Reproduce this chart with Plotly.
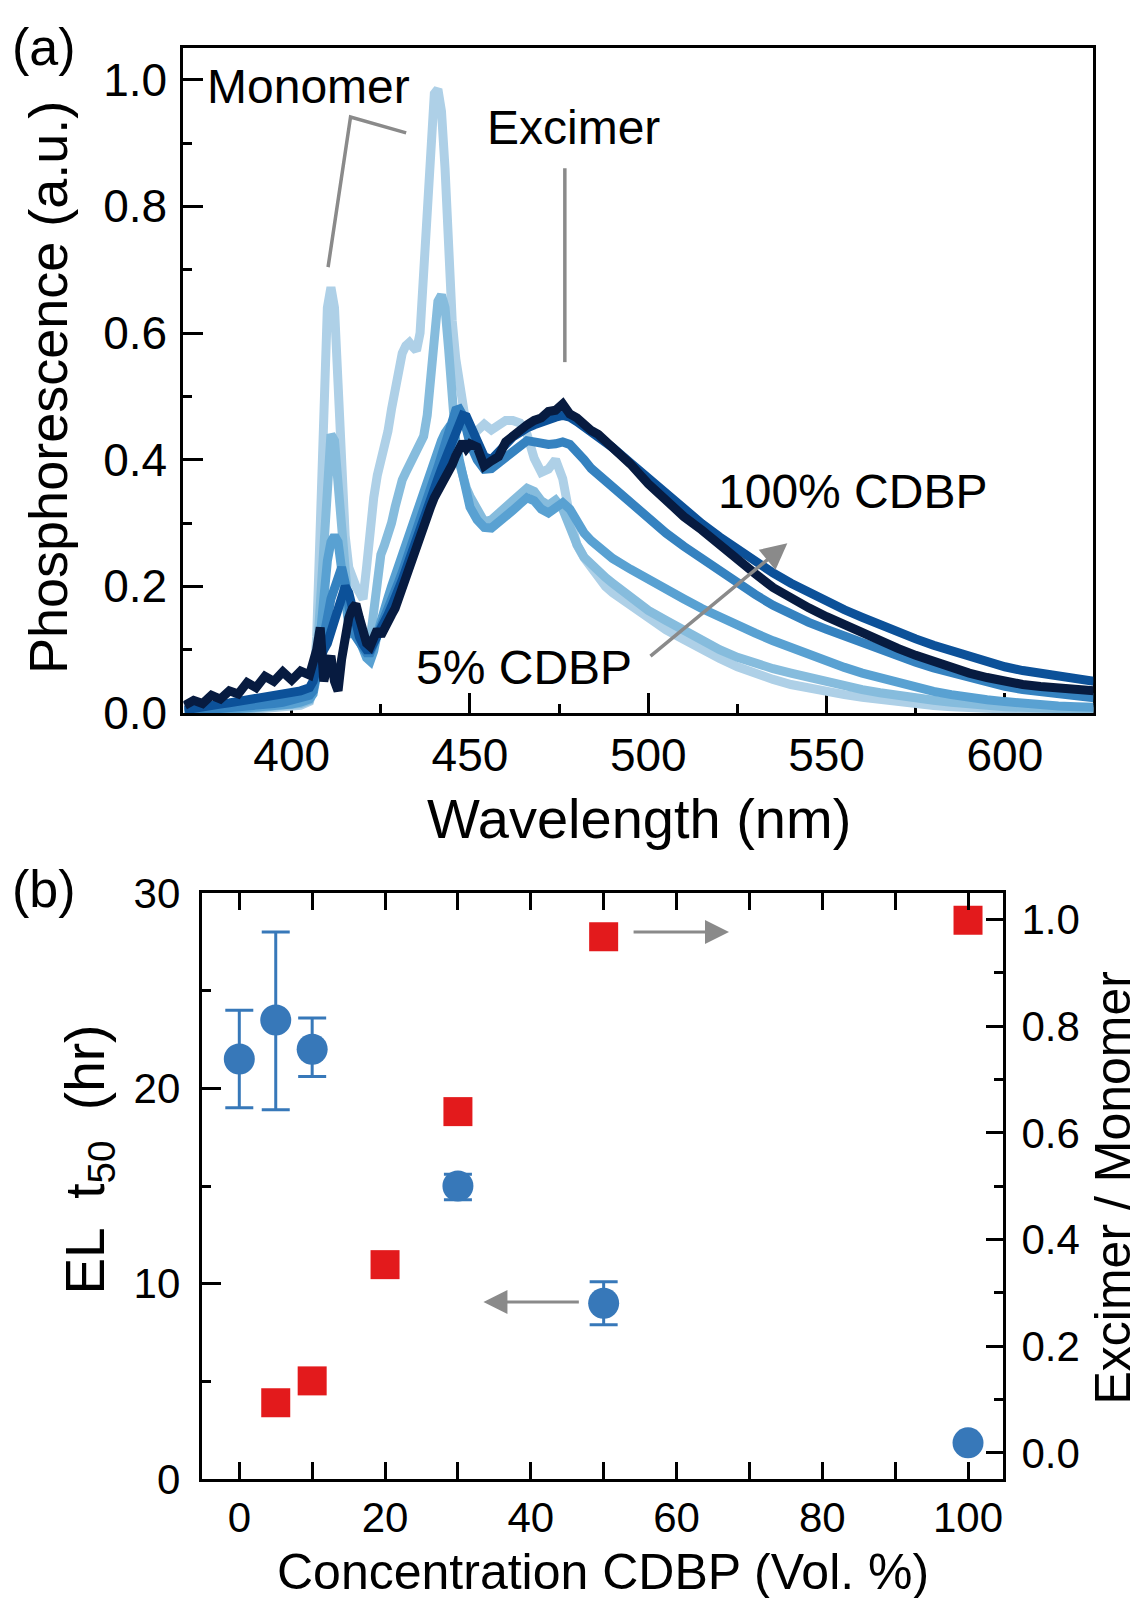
import plotly.graph_objects as go

W, H = 1139, 1598
FONT = "Liberation Sans, Arial, Helvetica, sans-serif"
DX, DY = -8, -8   # compensate page body margin

# ---------------- Panel (a): phosphorescence spectra ----------------
wavelength = [370, 372.5, 375, 377.5, 380, 382.5, 385, 387.5, 390, 392.5, 395, 397.5, 400, 402.5, 405,
              406, 407, 408, 409, 410, 411, 412, 413, 414, 415,
              416, 417, 418, 419, 420, 421, 422, 423, 424, 425,
              426, 427, 428, 429, 430, 431, 432, 433, 434, 435,
              436, 437, 438, 439, 440, 441, 442, 443, 444, 445,
              446, 447, 448, 449, 450,
              452, 454, 456, 458, 460, 462, 464, 466, 468, 470,
              472, 474, 476, 478, 480, 482, 484, 486, 488, 490,
              495, 500, 505, 510, 515, 520, 525, 530, 535, 540,
              545, 550, 555, 560, 565, 570, 575, 580, 585, 590,
              595, 600, 605, 610, 615, 620, 625]

cdbp_5 = [0.0, 0.0, 0.0, 0.001, 0.002, 0.003, 0.004, 0.005, 0.006, 0.007, 0.008, 0.009, 0.01, 0.012, 0.018,
          0.04, 0.12, 0.3, 0.5, 0.64, 0.672, 0.64, 0.52, 0.38, 0.28,
          0.23, 0.21, 0.2, 0.19, 0.18, 0.23, 0.3, 0.34, 0.375, 0.395,
          0.415, 0.445, 0.48, 0.515, 0.545, 0.568, 0.58, 0.585, 0.578, 0.572,
          0.6, 0.7, 0.82, 0.93, 0.978, 0.985, 0.95, 0.86, 0.72, 0.62,
          0.56, 0.515, 0.48, 0.452, 0.435,
          0.448, 0.456, 0.447, 0.455, 0.462, 0.462, 0.458, 0.44, 0.402, 0.38,
          0.385, 0.4, 0.37, 0.31, 0.265, 0.245, 0.228, 0.213, 0.2, 0.19,
          0.17, 0.149, 0.131, 0.116, 0.1, 0.086, 0.073, 0.062, 0.053, 0.045,
          0.039, 0.034, 0.029, 0.025, 0.021, 0.018, 0.015, 0.012, 0.01, 0.008,
          0.007, 0.006, 0.005, 0.004, 0.003, 0.003, 0.002]

cdbp_10 = [0.0, 0.0, 0.001, 0.002, 0.003, 0.004, 0.005, 0.006, 0.007, 0.008, 0.009, 0.01, 0.012, 0.015, 0.02,
           0.035, 0.08, 0.17, 0.3, 0.4, 0.44, 0.43, 0.36, 0.27, 0.2,
           0.16, 0.14, 0.13, 0.12, 0.108, 0.1, 0.115, 0.17, 0.22, 0.25,
           0.265, 0.28, 0.3, 0.325, 0.35, 0.368, 0.38, 0.39, 0.4, 0.413,
           0.425, 0.437, 0.47, 0.54, 0.61, 0.65, 0.66, 0.64, 0.575, 0.49,
           0.43, 0.395, 0.372, 0.355, 0.342,
           0.32, 0.302, 0.305, 0.315, 0.325, 0.335, 0.345, 0.355, 0.35, 0.335,
           0.328, 0.336, 0.322, 0.292, 0.266, 0.246, 0.234, 0.224, 0.214, 0.205,
           0.184, 0.162, 0.146, 0.13, 0.114, 0.1, 0.088, 0.078, 0.07, 0.063,
           0.056, 0.049, 0.043, 0.037, 0.032, 0.027, 0.023, 0.02, 0.017, 0.014,
           0.012, 0.01, 0.009, 0.008, 0.007, 0.006, 0.005]

cdbp_20 = [0.0, 0.001, 0.002, 0.003, 0.004, 0.005, 0.006, 0.007, 0.008, 0.009, 0.01, 0.012, 0.014, 0.017, 0.022,
           0.03, 0.06, 0.12, 0.19, 0.24, 0.27, 0.28, 0.27, 0.225, 0.175,
           0.14, 0.125, 0.125, 0.115, 0.1, 0.087, 0.082, 0.098, 0.125, 0.148,
           0.165, 0.182, 0.2, 0.217, 0.235, 0.252, 0.27, 0.287, 0.304, 0.32,
           0.336, 0.352, 0.368, 0.384, 0.4, 0.415, 0.43, 0.442, 0.45, 0.448,
           0.43, 0.4, 0.37, 0.345, 0.325,
           0.305, 0.293, 0.292, 0.3, 0.31, 0.32, 0.33, 0.34, 0.335, 0.322,
           0.316, 0.326, 0.332, 0.322, 0.302, 0.284, 0.272, 0.262, 0.252, 0.244,
           0.227, 0.21, 0.195, 0.18, 0.165, 0.151, 0.138, 0.126, 0.114, 0.103,
           0.092, 0.082, 0.072, 0.063, 0.055, 0.047, 0.04, 0.034, 0.029, 0.024,
           0.021, 0.018, 0.015, 0.013, 0.011, 0.01, 0.009]

cdbp_30 = [0.002, 0.003, 0.004, 0.005, 0.006, 0.007, 0.008, 0.01, 0.011, 0.013, 0.015, 0.017, 0.02, 0.023, 0.028,
           0.035, 0.06, 0.09, 0.12, 0.15, 0.18, 0.2, 0.22, 0.23, 0.205,
           0.165, 0.135, 0.12, 0.11, 0.1, 0.095, 0.095, 0.108, 0.123, 0.137,
           0.15, 0.16, 0.175, 0.19, 0.207, 0.222, 0.24, 0.258, 0.274, 0.29,
           0.306, 0.322, 0.338, 0.355, 0.372, 0.388, 0.405, 0.425, 0.445, 0.465,
           0.478, 0.48, 0.47, 0.448, 0.425,
           0.4, 0.385, 0.386, 0.395, 0.405, 0.415, 0.424, 0.43, 0.428, 0.425,
           0.424, 0.425, 0.428, 0.424, 0.414, 0.4, 0.386, 0.376, 0.366, 0.356,
           0.331, 0.306, 0.284, 0.263, 0.243, 0.224, 0.205, 0.187, 0.17, 0.155,
           0.143, 0.132, 0.121, 0.11, 0.099, 0.089, 0.08, 0.071, 0.063, 0.055,
           0.048, 0.042, 0.037, 0.033, 0.029, 0.026, 0.024]

cdbp_50 = [0.005, 0.008, 0.01, 0.012, 0.014, 0.016, 0.018, 0.02, 0.022, 0.025, 0.027, 0.03, 0.032, 0.035, 0.04,
           0.05, 0.07, 0.09, 0.1, 0.11, 0.13, 0.15, 0.17, 0.19, 0.2,
           0.19, 0.165, 0.14, 0.12, 0.108, 0.1, 0.1, 0.11, 0.123, 0.135,
           0.145, 0.155, 0.168, 0.18, 0.195, 0.21, 0.226, 0.243, 0.258, 0.274,
           0.29, 0.306, 0.322, 0.338, 0.355, 0.37, 0.385, 0.4, 0.418, 0.435,
           0.45, 0.462, 0.47, 0.468, 0.455,
           0.425, 0.405, 0.4, 0.41, 0.424, 0.436, 0.444, 0.45, 0.455, 0.46,
           0.464, 0.467, 0.47, 0.467, 0.46, 0.452, 0.445, 0.437, 0.428, 0.419,
           0.395, 0.37, 0.346, 0.322, 0.299, 0.278, 0.258, 0.239, 0.221, 0.205,
           0.19, 0.176, 0.163, 0.151, 0.139, 0.128, 0.117, 0.107, 0.098, 0.089,
           0.081, 0.073, 0.067, 0.062, 0.057, 0.053, 0.05]

cdbp_100 = [0.012, 0.02, 0.015, 0.028, 0.022, 0.035, 0.03, 0.048, 0.04, 0.058, 0.05, 0.065, 0.052, 0.066, 0.06,
            0.075, 0.1, 0.135, 0.05, 0.075, 0.09, 0.05, 0.035, 0.085, 0.125,
            0.15, 0.165, 0.172, 0.15, 0.13, 0.11, 0.105, 0.12, 0.132, 0.122,
            0.135, 0.14, 0.155, 0.165, 0.182, 0.198, 0.215, 0.235, 0.248, 0.265,
            0.283, 0.296, 0.31, 0.326, 0.34, 0.35, 0.358, 0.37, 0.376, 0.392,
            0.406, 0.42, 0.428, 0.418, 0.425,
            0.42, 0.39, 0.398, 0.405, 0.428, 0.438, 0.448, 0.455, 0.462, 0.466,
            0.476, 0.478, 0.488, 0.472, 0.466, 0.455, 0.446, 0.44, 0.43, 0.42,
            0.393, 0.362, 0.336, 0.31, 0.289, 0.265, 0.243, 0.22, 0.198, 0.18,
            0.166, 0.152, 0.139, 0.126, 0.114, 0.102, 0.091, 0.081, 0.072, 0.063,
            0.056, 0.049, 0.045, 0.042, 0.039, 0.037, 0.035]

spectra = [("5%", cdbp_5), ("10%", cdbp_10), ("20%", cdbp_20),
           ("30%", cdbp_30), ("50%", cdbp_50), ("100%", cdbp_100)]
spectra_colors = ["#aed0e7", "#86bcdd", "#59a1d2", "#3582c0", "#0c5199", "#071b40"]

# ---------------- Panel (b): lifetime and excimer ratio ----------------
conc_t50 = [0, 5, 10, 30, 50, 100]
t50_hr = [21.5, 23.5, 22.0, 15.0, 9.0, 1.85]
t50_err_plus = [2.5, 4.5, 1.6, 0.6, 1.1, 0.0]
t50_err_minus = [2.5, 4.6, 1.4, 0.7, 1.1, 0.0]

conc_ratio = [5, 10, 20, 30, 50, 100]
excimer_monomer = [0.094, 0.135, 0.353, 0.640, 0.968, 0.999]

for name, vals in spectra:
    assert len(vals) == len(wavelength), (name, len(vals))

fig = go.Figure()

for (name, vals), col in zip(spectra, spectra_colors):
    fig.add_trace(go.Scatter(
        x=wavelength, y=vals, mode="lines", name=name + " CDBP",
        line=dict(color=col, width=9), xaxis="x", yaxis="y", showlegend=False))

fig.add_trace(go.Scatter(
    x=conc_t50, y=t50_hr, mode="markers", xaxis="x2", yaxis="y2",
    marker=dict(symbol="circle", size=31, color="#3778b9"),
    error_y=dict(type="data", array=t50_err_plus, arrayminus=t50_err_minus,
                 color="#3778b9", thickness=3, width=14),
    showlegend=False))

fig.add_trace(go.Scatter(
    x=conc_ratio, y=excimer_monomer, mode="markers", xaxis="x2", yaxis="y3",
    marker=dict(symbol="square", size=29, color="#e31a1c"),
    showlegend=False))

GRAY = "#8a8a8a"


def px_x(p):
    return (p + DX) / W


def px_y(p):
    return 1 - (p + DY) / H


axis_base = dict(showline=True, linecolor="black", linewidth=3, ticks="inside",
                 tickcolor="black", tickwidth=3, showgrid=False, zeroline=False,
                 automargin=False,
                 tickfont=dict(family=FONT, size=46, color="black"))

minor_base = dict(ticks="inside", tickcolor="black", tickwidth=3, showgrid=False)

fig.update_layout(
    width=W, height=H, autosize=False,
    margin=dict(l=0, r=0, t=0, b=0, pad=0, autoexpand=False),
    paper_bgcolor="white", plot_bgcolor="white",
    showlegend=False,
    font=dict(family=FONT, color="black"),
    xaxis=dict(axis_base, domain=[px_x(183.3), px_x(1093.3)], range=[369.6, 624.8],
               anchor="y", tickmode="linear", tick0=400, dtick=50, ticklen=20,
               minor=dict(minor_base, tick0=0, dtick=25, ticklen=9),
               mirror=True, layer="below traces", ticklabelstandoff=0),
    yaxis=dict(axis_base, domain=[px_y(713), px_y(48)], range=[0, 1.05],
               anchor="x", tickmode="linear", tick0=0, dtick=0.2, tickformat=".1f",
               ticklen=20, minor=dict(minor_base, tick0=0, dtick=0.1, ticklen=9),
               mirror=True, layer="below traces", ticklabelstandoff=4),
    xaxis2=dict(axis_base, domain=[px_x(201.7), px_x(1003)], range=[-5.16, 104.8],
                anchor="y2", tickmode="linear", tick0=0, dtick=20, ticklen=17,
                minor=dict(minor_base, tick0=0, dtick=10, ticklen=9),
                mirror="allticks", tickfont=dict(family=FONT, size=42, color="black"),
                ticklabelstandoff=0),
    yaxis2=dict(axis_base, domain=[px_y(1479), px_y(893)], range=[0, 30],
                anchor="x2", tickmode="linear", tick0=0, dtick=10, ticklen=19,
                minor=dict(minor_base, tick0=0, dtick=5, ticklen=9),
                mirror=False, tickfont=dict(family=FONT, size=42, color="black"),
                ticklabelstandoff=10),
    yaxis3=dict(axis_base, overlaying="y2", side="right", anchor="x2",
                range=[-0.049, 1.05], tickmode="linear", tick0=0, dtick=0.2,
                tickformat=".1f", ticklen=17,
                minor=dict(minor_base, tick0=0, dtick=0.1, ticklen=9),
                tickfont=dict(family=FONT, size=42, color="black"),
                ticklabelstandoff=7),
)

# guide lines in panel (a)
monomer_guide = "M 410.2,0.704 L 416.5,0.941 L 432.1,0.916"
fig.add_shape(type="path", path=monomer_guide, xref="x", yref="y",
              line=dict(color=GRAY, width=3.5))
fig.add_shape(type="line", x0=476.6, x1=476.6, y0=0.554, y1=0.86, xref="x", yref="y",
              line=dict(color=GRAY, width=3.5))

# arrows
fig.add_annotation(x=539, y=0.268, ax=500.2, ay=0.0877, xref="x", yref="y",
                   axref="x", ayref="y", text="", showarrow=True, arrowhead=2,
                   arrowsize=1.5, arrowwidth=3.5, arrowcolor=GRAY, standoff=0)
fig.add_annotation(x=67.2, y=28.0, ax=53.9, ay=28.0, xref="x2", yref="y2",
                   axref="x2", ayref="y2", text="", showarrow=True, arrowhead=2,
                   arrowsize=1.6, arrowwidth=3, arrowcolor=GRAY, standoff=0)
fig.add_annotation(x=33.5, y=9.06, ax=46.8, ay=9.06, xref="x2", yref="y2",
                   axref="x2", ayref="y2", text="", showarrow=True, arrowhead=2,
                   arrowsize=1.6, arrowwidth=3, arrowcolor=GRAY, standoff=0)


def label(text, cx, cy, size, angle=0):
    fig.add_annotation(x=px_x(cx), y=px_y(cy), xref="paper", yref="paper",
                       text=text, showarrow=False, textangle=angle,
                       xanchor="center", yanchor="middle",
                       font=dict(family=FONT, size=size, color="black"))


label("Monomer", 308, 87, 48)
label("Excimer", 573.6, 127.4, 48)
label("100% CDBP", 852.7, 491, 48)
label("5% CDBP", 523.7, 667.3, 48)
label("(a)", 44, 47, 52)
label("(b)", 44, 889, 52)
label("Phosphorescence (a.u.)", 48, 388, 54, -90)
label("Wavelength (nm)", 639, 818, 56)
label("EL  t<sub>50</sub>  (hr)", 88.6, 1160, 55, -90)
label("Excimer / Monomer", 1112.5, 1188, 50, -90)
label("Concentration CDBP (Vol. %)", 603, 1572, 50)

fig.write_html("out.html")
